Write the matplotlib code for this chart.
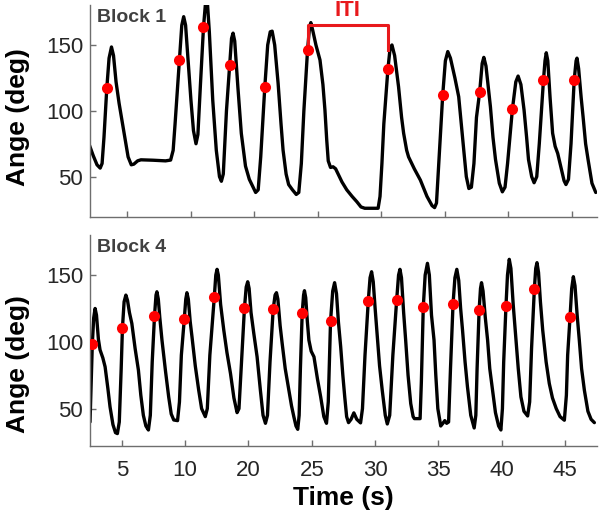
import matplotlib.pyplot as plt

plt.rcParams['font.family'] = ['Liberation Sans', 'DejaVu Sans']

# Block 1 trace: time (s) and angle (deg)
t1 = [2.0, 2.3, 2.6, 2.85, 3.0, 3.15, 3.37, 3.55, 3.74, 3.9, 4.1, 4.34, 4.74, 5.05,
      5.3, 5.5, 5.8, 6.06, 7.0, 8.0, 8.4, 8.6, 8.75, 9.09, 9.28, 9.43, 9.58, 9.8,
      10.0, 10.2, 10.4, 10.55, 10.75, 10.99, 11.15, 11.3, 11.45, 11.72, 12.0, 12.25,
      12.4, 12.55, 12.8, 13.05, 13.2, 13.32, 13.45, 13.7, 13.97, 14.3, 14.6, 14.9,
      15.1, 15.3, 15.5, 15.82, 16.05, 16.25, 16.4, 16.6, 16.87, 17.1, 17.26, 17.5,
      17.7, 18.0, 18.3, 18.5, 18.7, 18.9, 19.19, 19.35, 19.45, 19.6, 19.85, 20.17,
      20.4, 20.56, 20.7, 20.82, 21.0, 21.2, 21.4, 21.6, 21.9, 22.28, 22.7, 23.07,
      23.4, 23.7, 24.75, 24.9, 25.05, 25.2, 25.52, 25.7, 25.84, 26.05, 26.36, 26.6,
      26.76, 27.0, 27.15, 27.6, 28.08, 28.6, 29.0, 29.2, 29.35, 29.5, 29.84, 30.05,
      30.24, 30.45, 30.8, 31.1, 31.3, 31.5, 31.7, 31.9, 32.1, 32.3, 32.5, 32.75,
      32.95, 33.08, 33.25, 33.6, 33.8, 34.0, 34.3, 34.54, 34.75, 34.95, 35.33, 35.6,
      35.78, 36.0, 36.25, 36.45, 36.6, 36.85, 37.04, 37.25, 37.45, 37.78, 37.9,
      38.0, 38.12, 38.3, 38.5, 38.7, 38.9, 39.15, 39.4, 39.55, 39.75, 39.95, 40.2,
      40.35, 40.42, 40.55, 40.75, 40.9, 41.1, 41.3, 41.6, 41.9]
a1 = [74, 66, 59, 56.5, 60, 80, 117, 140, 148.5, 142, 122, 105.7, 82.9, 65,
      59, 59.5, 62, 62.8, 62.5, 62, 62.6, 70, 90, 138.6, 165, 171.5, 165, 135,
      108.2, 85, 75, 82, 120, 163.4, 182, 182, 160, 108, 70, 50,
      46.5, 52, 100, 134.8, 155, 159, 153, 118, 82.9, 58, 48, 42,
      38, 40, 65, 117.9, 150, 160, 160.5, 150, 120.9, 90, 70.2, 52,
      44, 40, 36.5, 38, 60, 100, 146.2, 164, 167, 161, 150, 138.6,
      120, 100.6, 78, 62, 57, 57.5, 56, 52, 46, 40, 35, 31,
      27, 26, 26, 35, 60, 90, 131.5, 148, 150, 142, 118.3, 95,
      83, 70, 65, 56, 47.4, 35, 28, 26.5, 30, 55, 112, 138,
      145, 140, 125, 110.7, 90, 70, 50, 41, 42, 60, 95, 114.1,
      136, 140.6, 134, 103, 80, 63, 45, 38.5, 42, 60, 101.1, 122,
      126.4, 120, 100.6, 80, 63, 50, 45.4, 50, 75, 123.4, 138,
      144.1, 138, 110, 83, 73, 67.7, 57.5, 47, 44, 48, 75, 123.4,
      138, 140, 132, 110, 95.5, 75, 62.6, 45, 38]
t1_dots = [3.37, 9.09, 10.99, 13.05, 15.82, 19.19, 25.52, 29.84, 32.75, 35.33, 37.78, 40.2]
a1_dots = [117, 138.6, 163.4, 134.8, 117.9, 146.2, 131.5, 112, 114.1, 101.1, 123.4, 123.4]

# Block 4 trace
t4 = [2.49, 2.55, 2.67, 2.78, 2.89, 3.0, 3.15, 3.28, 3.5, 3.68, 3.9, 4.07, 4.3, 4.5,
      4.65, 4.8, 4.95, 5.05, 5.18, 5.32, 5.45, 5.6, 5.79, 6.05, 6.31, 6.5, 6.7, 6.9,
      7.1, 7.25, 7.4, 7.58, 7.7, 7.77, 7.88, 8.0, 8.17, 8.45, 8.7, 8.9, 9.1, 9.4,
      9.55, 9.7, 9.93, 10.05, 10.14, 10.25, 10.4, 10.54, 10.8, 11.07, 11.3, 11.59,
      11.75, 11.95, 12.3, 12.42, 12.52, 12.62, 12.8, 13.05, 13.3, 13.58, 13.85, 14.1,
      14.25, 14.45, 14.68, 14.82, 14.94, 15.05, 15.2, 15.42, 15.68, 15.94, 16.15,
      16.34, 16.5, 16.7, 16.95, 17.1, 17.21, 17.32, 17.5, 17.66, 17.9, 18.19, 18.4,
      18.58, 18.75, 18.89, 19.0, 19.1, 19.24, 19.35, 19.42, 19.52, 19.65, 19.77,
      19.95, 20.17, 20.45, 20.7, 20.95, 21.16, 21.3, 21.48, 21.65, 21.8, 21.95, 22.1,
      22.28, 22.45, 22.6, 22.75, 22.9, 23.1, 23.32, 23.55, 23.85, 24.0, 24.2, 24.46,
      24.6, 24.72, 24.85, 25.0, 25.17, 25.35, 25.56, 25.8, 25.96, 26.15, 26.4, 26.7,
      26.85, 26.96, 27.08, 27.25, 27.41, 27.6, 27.81, 28.0, 28.1, 28.55, 28.65, 28.8,
      28.95, 29.13, 29.28, 29.45, 29.65, 29.79, 29.95, 30.18, 30.35, 30.5, 30.65,
      30.8, 30.95, 31.15, 31.3, 31.45, 31.6, 31.75, 31.9, 32.1, 32.29, 32.55, 32.82,
      32.95, 33.05, 33.21, 33.32, 33.4, 33.52, 33.7, 33.88, 34.05, 34.27, 34.5,
      34.75, 34.93, 35.05, 35.15, 35.33, 35.45, 35.59, 35.72, 35.9, 36.12, 36.3,
      36.51, 36.75, 37.04, 37.2, 37.35, 37.57, 37.68, 37.78, 37.9, 38.05, 38.23,
      38.5, 38.75, 39.0, 39.3, 39.6, 39.94, 40.1, 40.2, 40.39, 40.52, 40.65, 40.78,
      40.95, 41.12, 41.3, 41.52, 41.8, 42.05, 42.31]
a4 = [40, 60, 98.3, 118, 125, 120, 102, 94, 88, 81.3, 65, 51.3, 38, 32,
      31.3, 40, 80, 110.5, 130, 135, 131, 122, 113.8, 95, 78.8, 60, 45, 37,
      34, 45, 85, 119.3, 135, 137.5, 132, 118, 101.3, 78, 58.8, 46, 41.5, 41,
      55, 90, 116.8, 132, 136.8, 132, 115, 103.8, 82, 63.8, 50, 44,
      50, 90, 133.3, 150, 154.3, 150, 128, 108.8, 92, 76.3, 58, 47,
      50, 85, 125, 141, 145, 140, 122, 106.3, 88.8, 63.8, 45,
      39, 45, 85, 124.3, 135, 136.8, 132, 112, 98.8, 80, 63.8, 52,
      44, 37, 34.5, 45, 80, 121.3, 135, 138.3, 133, 115, 101.3,
      93, 88.8, 72, 58.8, 44, 39, 55, 115.5, 138, 144.3, 136, 115,
      96.3, 75, 58.8, 44, 39.5, 42, 46.8, 42, 39.3, 50, 90, 130.8,
      148, 152.5, 145, 125, 103.8, 82, 63.8, 45, 38.5, 45, 90, 131.3,
      150, 154.3, 148, 122, 101.3, 75, 53.8, 44, 42.5, 42.5, 70, 125.8,
      150, 158.8, 150, 120, 101.3, 75, 50, 37, 39, 41, 39,
      40, 80, 128.3, 148, 154.3, 146, 125, 108.8, 85, 66.3, 45, 35.5,
      45, 80, 123.8, 140, 144.3, 138, 118, 101.3, 80, 63.8, 47,
      37, 34, 50, 85, 126.8, 150, 161.8, 155, 128, 101.3, 80,
      58.8, 48, 44.5, 55, 95, 139.3, 155, 159.3, 152, 130, 108.8,
      85, 68.8, 58, 50, 44, 41.3, 60, 90, 118.8, 140, 148.8, 142,
      120, 101.3, 80, 63.8, 48, 42, 39.5]
t4_dots = [2.67, 5.05, 7.58, 9.93, 12.3, 14.68, 16.95, 19.24, 21.48, 24.46, 26.7,
           28.8, 31.15, 33.21, 35.33, 37.57, 40.39]
a4_dots = [98.3, 110.5, 119.3, 116.8, 133.3, 125, 124.3, 121.3, 115.5, 130.8, 131.3,
           125.8, 128.3, 123.8, 126.8, 139.3, 118.8]

xtick_pos = [5, 10, 15, 20, 25, 30, 35, 40]
xtick_labels = ['5', '10', '20', '25', '30', '35', '40', '45']
ytick_pos = [50, 100, 150]
iti_top = 165

axis_gray = '#6e6e6e'
red = '#ff0000'

fig = plt.figure(figsize=(6.01, 5.28), dpi=100)
ax1 = fig.add_axes([0.1498, 0.5896, 0.8436, 0.401])
ax4 = fig.add_axes([0.1498, 0.1553, 0.8436, 0.3996])

panels = [(ax1, t1, a1, t1_dots, a1_dots, 'Block 1', (2.05, 42.0), (19.6, 180.4), 0.47),
          (ax4, t4, a4, t4_dots, a4_dots, 'Block 4', (2.49, 42.52), (22, 180), 0.39)]

for ax, t, a, td, ad, name, xl, yl, ylab_y in panels:
    ax.plot(t, a, color='black', lw=2.4, solid_joinstyle='round', solid_capstyle='round')
    ax.plot(td, ad, 'o', color=red, ms=8, mec='none', zorder=3)
    ax.set_xlim(*xl)
    ax.set_ylim(*yl)
    ax.set_xticks(xtick_pos)
    ax.set_yticks(ytick_pos)
    for s in ['top', 'right']:
        ax.spines[s].set_visible(False)
    for s in ['left', 'bottom']:
        ax.spines[s].set_color(axis_gray)
        ax.spines[s].set_linewidth(1.0)
    ax.tick_params(direction='in', length=4, width=1, color=axis_gray,
                   labelsize=16, labelcolor='#262626')
    ax.tick_params(axis='y', pad=5)
    ax.tick_params(axis='x', pad=10)
    ax.set_ylabel('Ange (deg)', fontsize=19, fontweight='bold')
    ax.yaxis.set_label_coords(-0.118, ylab_y)
    ax.text(0.013, 0.94, name, transform=ax.transAxes, ha='left', va='center',
            fontsize=14, fontweight='bold', color='#404040')

ax1.set_xticklabels([])
ax4.set_xticklabels(xtick_labels)
ax4.set_xlabel('Time (s)', fontsize=19, fontweight='bold', labelpad=4)

# ITI bracket between the two cued movements
iti_start, iti_end = t1_dots[5], t1_dots[6]
ax1.plot([iti_start, iti_start, iti_end, iti_end],
         [a1_dots[5] + 3, iti_top, iti_top, a1_dots[6] + 15],
         color='#e8191c', lw=2.2, clip_on=False)
ax1.text((iti_start + iti_end) / 2, iti_top + 3, 'ITI', color='#e8191c', fontsize=16,
         fontweight='bold', ha='center', va='bottom')

fig.savefig('out.png', dpi=100)
